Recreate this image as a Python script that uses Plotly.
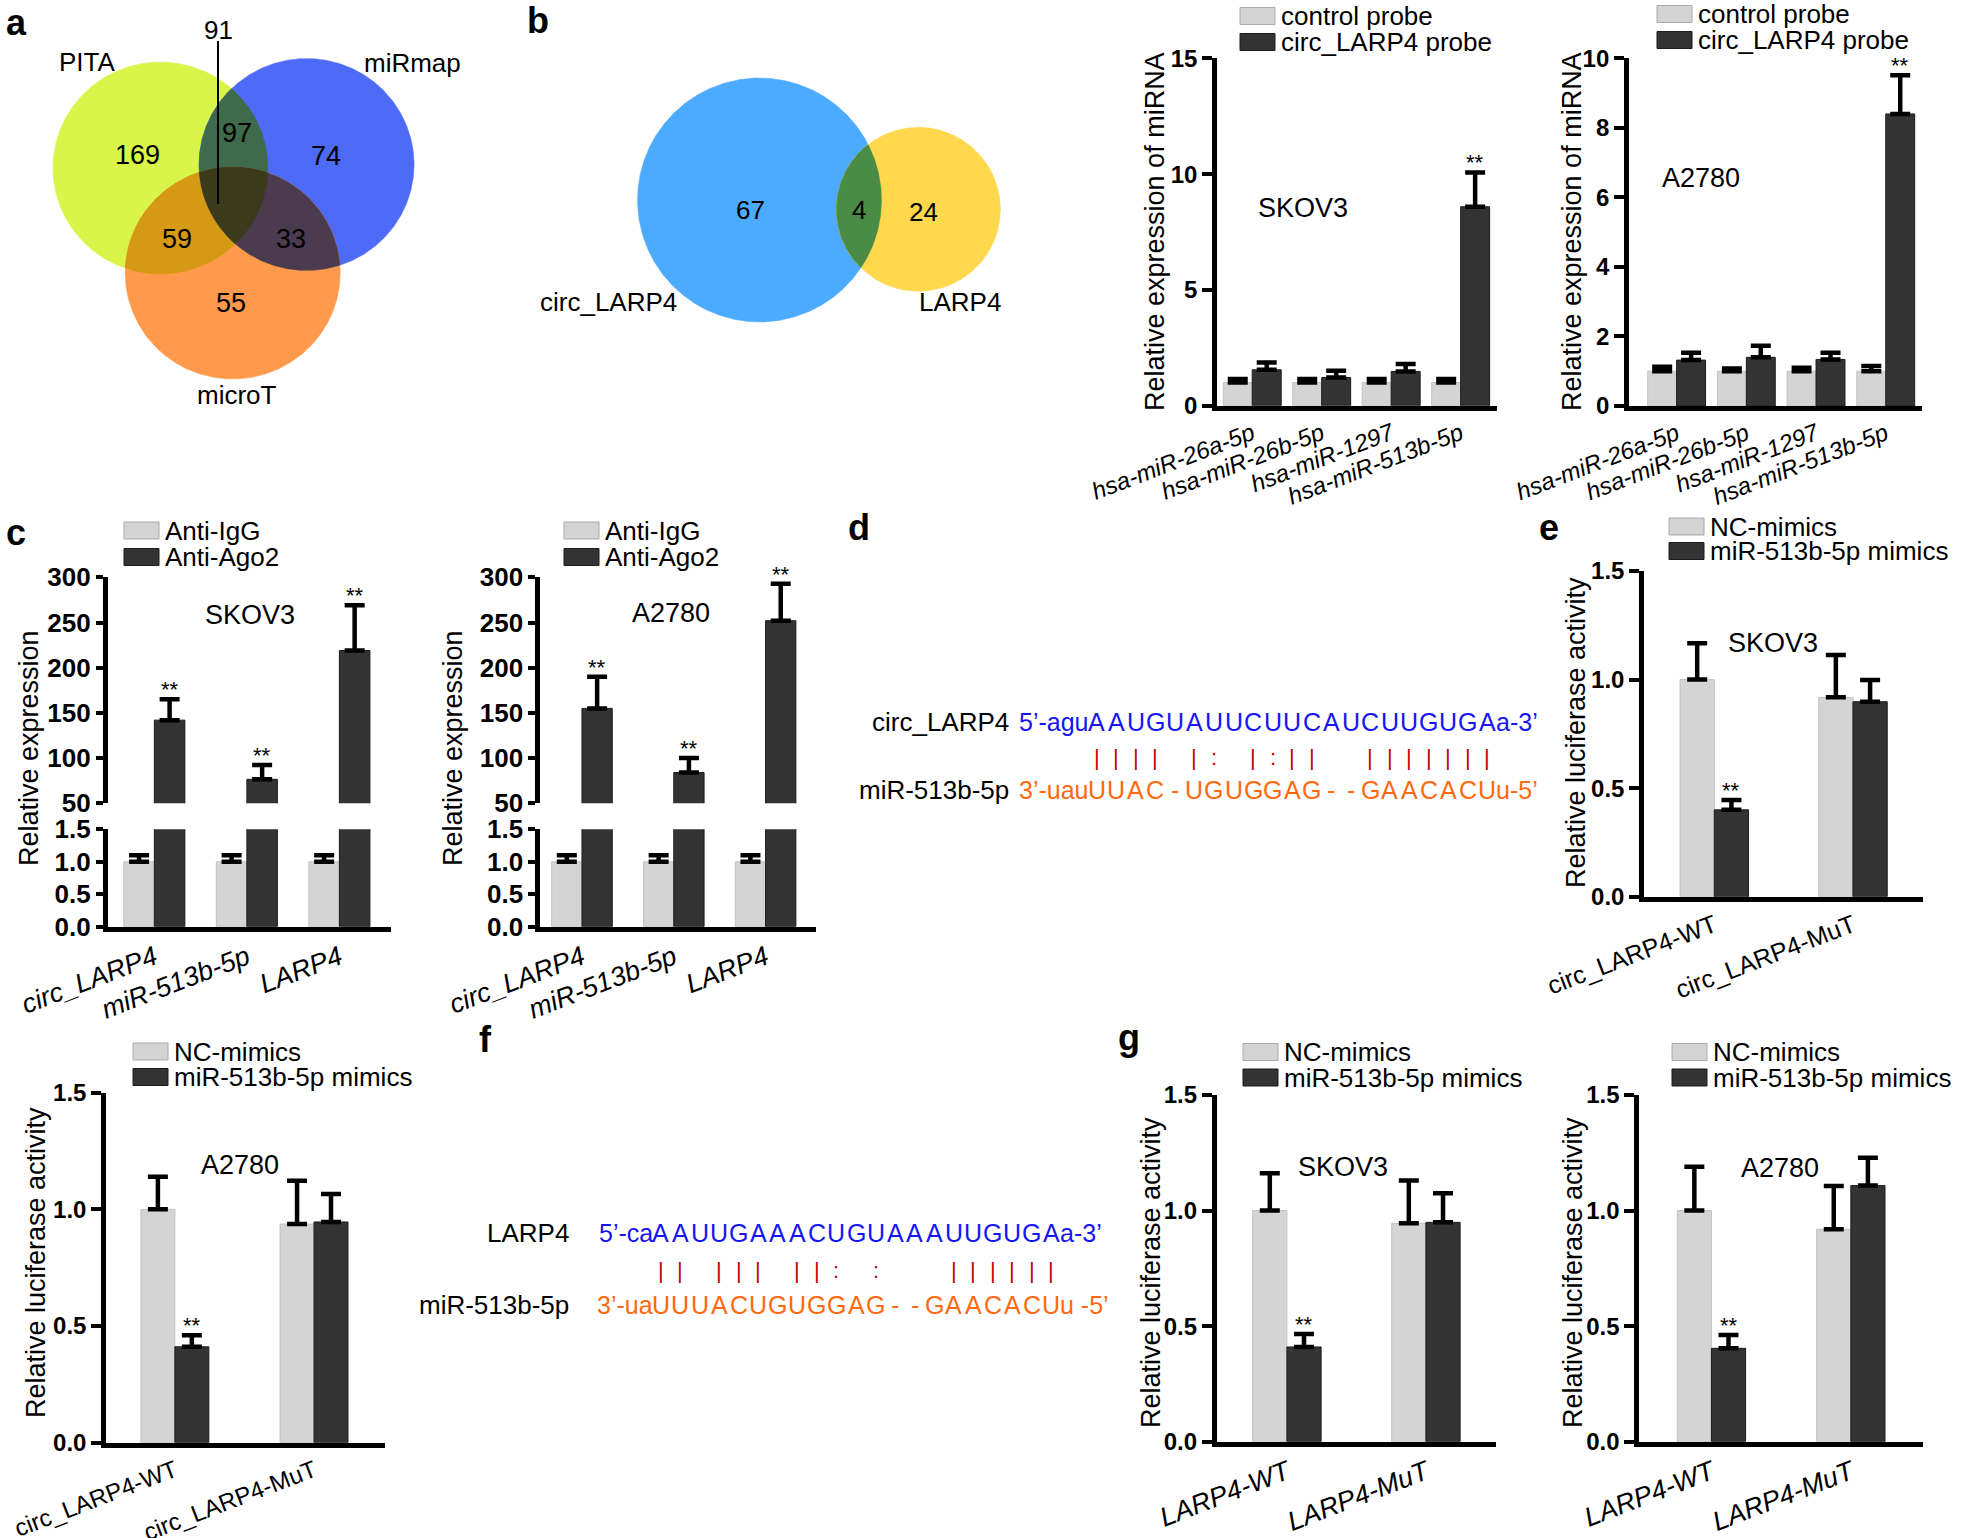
import numpy as np
import plotly.graph_objects as go

W, H = 1961, 1538
FONT = "Liberation Sans, Arial, Helvetica, sans-serif"
LIGHT = "#d4d4d4"
DARK = "#333333"

# ---------------- data ----------------
# a: three-way venn (PITA, miRmap, microT)
venn_a_sets = ["PITA", "miRmap", "microT"]
venn_a_only = [169, 74, 55]
venn_a_pairs = [97, 59, 33]  # PITA&miRmap, PITA&microT, miRmap&microT
venn_a_all = [91]
# b: two-way venn
venn_b_sets = ["circ_LARP4", "LARP4"]
venn_b_counts = [67, 4, 24]  # circ only, shared, LARP4 only

# b: RNA pull-down
b_mirnas = ["hsa-miR-26a-5p", "hsa-miR-26b-5p", "hsa-miR-1297", "hsa-miR-513b-5p"]
b_skov3_ctrl = [1.0, 1.0, 1.0, 1.0]
b_skov3_ctrl_sd = [0.15, 0.15, 0.15, 0.15]
b_skov3_probe = [1.55, 1.22, 1.48, 8.59]
b_skov3_probe_sd = [0.32, 0.29, 0.32, 1.48]
b_a2780_ctrl = [1.0, 1.0, 1.0, 1.0]
b_a2780_ctrl_sd = [0.13, 0.08, 0.10, 0.15]
b_a2780_probe = [1.32, 1.40, 1.34, 8.40]
b_a2780_probe_sd = [0.21, 0.33, 0.19, 1.11]

# c: RIP assay
c_targets = ["circ_LARP4", "miR-513b-5p", "LARP4"]
c_skov3_igg = [1.0, 1.0, 1.0]
c_skov3_igg_sd = [0.10, 0.10, 0.10]
c_skov3_ago2 = [142, 76.5, 219]
c_skov3_ago2_sd = [23, 16, 50]
c_a2780_igg = [1.0, 1.0, 1.0]
c_a2780_igg_sd = [0.10, 0.10, 0.10]
c_a2780_ago2 = [155, 84, 252]
c_a2780_ago2_sd = [35, 16, 41]

# d / f: binding sites (prefix, paired core, suffix)
d_target = ["5’-agu", "AAUGUAUUCUUCAUCUUGUGA", "a-3’"]
d_mirna = ["3’-uau", "UUAC-UGUGGAG--GAACACU", "u-5’"]
f_target = ["5’-ca", "AAUUGAAACUGUAAAUUGUGA", "a-3’"]
f_mirna = ["3’-ua", "UUUACUGUGGAG--GAACACU", "u -5’"]

# e: luciferase, circ_LARP4 reporters
e_reporters = ["circ_LARP4-WT", "circ_LARP4-MuT"]
e_skov3_nc = [1.0, 0.918]
e_skov3_nc_sd = [0.167, 0.195]
e_skov3_mim = [0.40, 0.898]
e_skov3_mim_sd = [0.045, 0.10]
e_a2780_nc = [1.0, 0.937]
e_a2780_nc_sd = [0.14, 0.186]
e_a2780_mim = [0.411, 0.946]
e_a2780_mim_sd = [0.05, 0.12]

# g: luciferase, LARP4 reporters
g_reporters = ["LARP4-WT", "LARP4-MuT"]
g_skov3_nc = [1.0, 0.945]
g_skov3_nc_sd = [0.161, 0.185]
g_skov3_mim = [0.41, 0.949]
g_skov3_mim_sd = [0.056, 0.126]
g_a2780_nc = [1.0, 0.919]
g_a2780_nc_sd = [0.19, 0.187]
g_a2780_mim = [0.404, 1.108]
g_a2780_mim_sd = [0.058, 0.121]

fig = go.Figure()
annotations = []
shapes = []
axes = {}

# full-page canvas in pixel units for venns, labels and legends
axes["xaxis"] = dict(domain=[0, 1], range=[0, W], visible=False, fixedrange=True, automargin=False)
axes["yaxis"] = dict(domain=[0, 1], range=[H, 0], visible=False, fixedrange=True, automargin=False)


def text(x, y, s, size=27, color="black", xanchor="center", bold=False, angle=0):
    annotations.append(dict(x=x, y=y, xref="x", yref="y", text=s, showarrow=False,
                            xanchor=xanchor, yanchor="middle", textangle=angle,
                            font=dict(family=FONT, size=size, color=color,
                                      weight="bold" if bold else "normal")))


# ---------------- venn helpers ----------------
def ellipse(e, n=900):
    cx, cy, rx, ry = e
    t = np.linspace(0, 2 * np.pi, n, endpoint=False)
    return np.c_[cx + rx * np.cos(t), cy + ry * np.sin(t)]


def inside(p, e):
    cx, cy, rx, ry = e
    return ((p[:, 0] - cx) / rx) ** 2 + ((p[:, 1] - cy) / ry) ** 2 <= 1.0000001


def region(members):
    pts = []
    for i, e in enumerate(members):
        p = ellipse(e)
        m = np.ones(len(p), bool)
        for j, o in enumerate(members):
            if j != i:
                m &= inside(p, o)
        pts.append(p[m])
    pts = np.vstack(pts)
    c = pts.mean(0)
    return pts[np.argsort(np.arctan2(pts[:, 1] - c[1], pts[:, 0] - c[0]))]


def blob(pts, color):
    fig.add_trace(go.Scatter(x=np.r_[pts[:, 0], pts[0, 0]], y=np.r_[pts[:, 1], pts[0, 1]],
                             mode="lines", fill="toself", fillcolor=color,
                             line=dict(color=color, width=0.5), xaxis="x", yaxis="y",
                             hoverinfo="skip", showlegend=False))


# a
pita, mirmap, microt = (160.4, 168, 107.5, 106), (306.6, 164.5, 107.5, 106), (232.7, 273, 107.5, 106)
blob(ellipse(pita), "#d9f54a")
blob(ellipse(mirmap), "#4e6bf8")
blob(ellipse(microt), "#ff9a4d")
blob(region([pita, mirmap]), "#3f6a4c")
blob(region([pita, microt]), "#d69914")
blob(region([mirmap, microt]), "#4a3b4f")
blob(region([pita, mirmap, microt]), "#3b3a1b")
for (x, y), s in zip([(87, 62), (412, 63), (237, 395)], venn_a_sets):
    text(x, y, s, 26)
for (x, y), v in zip([(137, 155), (326, 156), (231, 303)], venn_a_only):
    text(x, y, str(v), 27)
for (x, y), v in zip([(237, 133), (177, 239), (291, 239)], venn_a_pairs):
    text(x, y, str(v), 27)
text(218, 30, str(venn_a_all[0]), 26)
shapes.append(dict(type="line", xref="x", yref="y", x0=218, x1=218, y0=41, y1=204,
                   line=dict(color="black", width=2)))

# b venn
circ, larp = (759.5, 200, 122, 122), (918.4, 209.3, 82, 82)
blob(ellipse(circ), "#4dabff")
blob(ellipse(larp), "#ffd84d")
blob(region([circ, larp]), "#4a8b45")
for (x, y), v in zip([(750, 210), (859, 210), (923, 212)], venn_b_counts):
    text(x, y, str(v), 26)
text(608, 302, venn_b_sets[0], 26)
text(960, 302, venn_b_sets[1], 26)


# ---------------- bar chart helpers ----------------
def add_axes(n, x0, x1, ytop, ybot, xr, yr, ticks, cats, fmt="", ysize=24, xsize=26,
             italic=False, show_x=True, ticklen=10):
    axes[f"xaxis{n}"] = dict(domain=[x0 / W, x1 / W], range=xr, anchor=f"y{n}", type="category",
                             categoryorder="array", categoryarray=cats, showline=show_x,
                             linecolor="black", linewidth=4.5, ticks="", showticklabels=show_x,
                             tickangle=-21, showgrid=False, zeroline=False, fixedrange=True,
                             automargin=False,
                             tickfont=dict(family=FONT, size=xsize, color="black",
                                           style="italic" if italic else "normal"))
    axes[f"yaxis{n}"] = dict(domain=[1 - ybot / H, 1 - ytop / H], range=yr, anchor=f"x{n}",
                             tickmode="array", tickvals=ticks, tickformat=fmt, ticks="outside",
                             ticklen=ticklen, tickwidth=4, tickcolor="black", showline=True,
                             linecolor="black", linewidth=4.5, showgrid=False, zeroline=False,
                             fixedrange=True, automargin=False,
                             tickfont=dict(family=FONT, size=ysize, color="black", weight="bold"))


def bars(n, cats, vals, sd, first, w, err=True):
    fig.add_trace(go.Bar(
        x=cats, y=vals, xaxis=f"x{n}", yaxis=f"y{n}", width=w, offset=-w if first else 0,
        marker=dict(color=LIGHT if first else DARK,
                    line=dict(color="#c2c2c2" if first else "#1c1c1c", width=1)),
        error_y=dict(type="data", array=sd, arrayminus=[0] * len(sd), symmetric=False,
                     visible=err, color="black", thickness=4.5, width=10),
        hoverinfo="skip", showlegend=False))


def stars(n, idx, vals, sd, w):
    for i in idx:
        annotations.append(dict(x=i + w / 2, y=vals[i] + sd[i], xref=f"x{n}", yref=f"y{n}",
                                text="**", showarrow=False, yanchor="bottom", yshift=-5,
                                font=dict(family=FONT, size=22, color="black")))


def legend(x, ys, labels, size=26):
    for y, lab, col, edge in zip(ys, labels, [LIGHT, DARK], ["#aaaaaa", "#1c1c1c"]):
        shapes.append(dict(type="rect", xref="x", yref="y", x0=x, x1=x + 35, y0=y - 8.5,
                           y1=y + 8.5, fillcolor=col, line=dict(color=edge, width=1)))
        text(x + 39, y, lab, size, xanchor="left")


# b bars
add_axes(2, 1217, 1496.5, 58.3, 405.7, [-0.507, 3.516], [0, 15], [0, 5, 10, 15], b_mirnas,
         xsize=24, italic=True)
bars(2, b_mirnas, b_skov3_ctrl, b_skov3_ctrl_sd, True, 0.417)
bars(2, b_mirnas, b_skov3_probe, b_skov3_probe_sd, False, 0.417)
stars(2, [3], b_skov3_probe, b_skov3_probe_sd, 0.417)
add_axes(3, 1628.8, 1922, 58.3, 406, [-0.686, 3.52], [0, 10], [0, 2, 4, 6, 8, 10], b_mirnas,
         xsize=24, italic=True)
bars(3, b_mirnas, b_a2780_ctrl, b_a2780_ctrl_sd, True, 0.415)
bars(3, b_mirnas, b_a2780_probe, b_a2780_probe_sd, False, 0.415)
stars(3, [3], b_a2780_probe, b_a2780_probe_sd, 0.415)
legend(1240, [16, 42], ["control probe", "circ_LARP4 probe"])
legend(1657, [14, 40], ["control probe", "circ_LARP4 probe"])
text(1155, 232, "Relative expression of miRNA", 27, angle=-90)
text(1572, 232, "Relative expression of miRNA", 27, angle=-90)
text(1303, 208, "SKOV3", 27)
text(1701, 178, "A2780", 27)

# c bars (broken axis)
for nu, nl, x0, x1, xr, igg, igg_sd, ago, ago_sd in [
        (4, 5, 107.7, 391.2, [-0.504, 2.56], c_skov3_igg, c_skov3_igg_sd, c_skov3_ago2, c_skov3_ago2_sd),
        (6, 7, 540.2, 815.8, [-0.455, 2.547], c_a2780_igg, c_a2780_igg_sd, c_a2780_ago2, c_a2780_ago2_sd)]:
    add_axes(nu, x0, x1, 577.3, 803.3, xr, [50, 300], [50, 100, 150, 200, 250, 300], c_targets,
             ysize=26, show_x=False, ticklen=7)
    bars(nu, c_targets, ago, ago_sd, False, 0.33)
    stars(nu, [0, 1, 2], ago, ago_sd, 0.33)
    add_axes(nl, x0, x1, 829.3, 926.7, xr, [0, 1.5], [0, 0.5, 1.0, 1.5], c_targets, fmt=".1f",
             ysize=26, xsize=27, italic=True, ticklen=7)
    bars(nl, c_targets, igg, igg_sd, True, 0.33)
    bars(nl, c_targets, ago, ago_sd, False, 0.33, err=False)
legend(124, [530.5, 557], ["Anti-IgG", "Anti-Ago2"])
legend(564, [530.5, 557], ["Anti-IgG", "Anti-Ago2"])
text(29, 748, "Relative expression", 27, angle=-90)
text(453, 748, "Relative expression", 27, angle=-90)
text(250, 615, "SKOV3", 27)
text(671, 613, "A2780", 27)

# e and the A2780 counterpart
add_axes(8, 1644, 1923, 571, 896.7, [-0.507, 1.505], [0, 1.5], [0, 0.5, 1.0, 1.5], e_reporters,
         fmt=".1f", xsize=25)
bars(8, e_reporters, e_skov3_nc, e_skov3_nc_sd, True, 0.247)
bars(8, e_reporters, e_skov3_mim, e_skov3_mim_sd, False, 0.247)
stars(8, [0], e_skov3_mim, e_skov3_mim_sd, 0.247)
add_axes(9, 106, 385, 1092.7, 1442.7, [-0.495, 1.51], [0, 1.5], [0, 0.5, 1.0, 1.5], e_reporters,
         fmt=".1f", xsize=24)
bars(9, e_reporters, e_a2780_nc, e_a2780_nc_sd, True, 0.244)
bars(9, e_reporters, e_a2780_mim, e_a2780_mim_sd, False, 0.244)
stars(9, [0], e_a2780_mim, e_a2780_mim_sd, 0.244)
legend(1669, [526.5, 551], ["NC-mimics", "miR-513b-5p mimics"])
legend(133, [1051.5, 1077], ["NC-mimics", "miR-513b-5p mimics"])
text(1576, 733, "Relative luciferase activity", 27, angle=-90)
text(36, 1263, "Relative luciferase activity", 27, angle=-90)
text(1773, 643, "SKOV3", 27)
text(240, 1165, "A2780", 27)

# g
add_axes(10, 1216.7, 1496.4, 1095, 1441.7, [-0.505, 1.507], [0, 1.5], [0, 0.5, 1.0, 1.5],
         g_reporters, fmt=".1f", xsize=27, italic=True)
bars(10, g_reporters, g_skov3_nc, g_skov3_nc_sd, True, 0.246)
bars(10, g_reporters, g_skov3_mim, g_skov3_mim_sd, False, 0.246)
stars(10, [0], g_skov3_mim, g_skov3_mim_sd, 0.246)
add_axes(11, 1639.2, 1922.5, 1095, 1441.7, [-0.518, 1.514], [0, 1.5], [0, 0.5, 1.0, 1.5],
         g_reporters, fmt=".1f", xsize=27, italic=True)
bars(11, g_reporters, g_a2780_nc, g_a2780_nc_sd, True, 0.245)
bars(11, g_reporters, g_a2780_mim, g_a2780_mim_sd, False, 0.245)
stars(11, [0], g_a2780_mim, g_a2780_mim_sd, 0.245)
legend(1243, [1052, 1077.5], ["NC-mimics", "miR-513b-5p mimics"])
legend(1672, [1052, 1077.5], ["NC-mimics", "miR-513b-5p mimics"])
text(1151, 1273, "Relative luciferase activity", 27, angle=-90)
text(1573, 1273, "Relative luciferase activity", 27, angle=-90)
text(1343, 1167, "SKOV3", 27)
text(1780, 1168, "A2780", 27)


# ---------------- d / f duplexes ----------------
def marks(top, bottom):
    wc = {"AU", "UA", "GC", "CG"}
    wobble = {"GU", "UG"}
    return ["|" if a + b in wc else ":" if a + b in wobble else " " for a, b in zip(top, bottom)]


def duplex(names, target, mirna, label_x, slot0, pitch, ys):
    for name, y in zip(names, (ys[0], ys[2])):
        text(label_x, y, name, 26, xanchor="right")
    for seq, y, col in [(target, ys[0], "#1616f5"), (mirna, ys[2], "#ff6a10")]:
        text(slot0 - pitch / 2 + 4, y, seq[0], 25, col, xanchor="right")
        for k, ch in enumerate(seq[1]):
            text(slot0 + k * pitch, y, ch, 25, col)
        text(slot0 + (len(seq[1]) - 0.5) * pitch - 3, y, seq[2], 25, col, xanchor="left")
    for k, m in enumerate(marks(target[1], mirna[1])):
        if m != " ":
            text(slot0 + k * pitch, ys[1], m, 22, "#c00000")


duplex(["circ_LARP4", "miR-513b-5p"], d_target, d_mirna, 1011, 1096.8, 19.53, (722, 757, 790))
duplex(["LARP4", "miR-513b-5p"], f_target, f_mirna, 571, 660.8, 19.52, (1233, 1270, 1305))

# panel letters
for (x, y), s in zip([(16, 22), (538, 20), (16, 532), (859, 527), (1549, 527), (485, 1039),
                      (1129, 1037)], "abcdefg"):
    text(x, y, s, 36, bold=True)

fig.update_layout(width=W, height=H, autosize=False,
                  margin=dict(l=0, r=0, t=0, b=0, pad=0, autoexpand=False),
                  paper_bgcolor="white", plot_bgcolor="rgba(0,0,0,0)", barmode="overlay",
                  showlegend=False, annotations=annotations, shapes=shapes, **axes)

# the page's default body margin would push the fixed-size figure off by 8px
fig.write_html("out.html", config={"displayModeBar": False},
               post_script="document.body.style.margin='0';document.body.style.overflow='hidden';")
